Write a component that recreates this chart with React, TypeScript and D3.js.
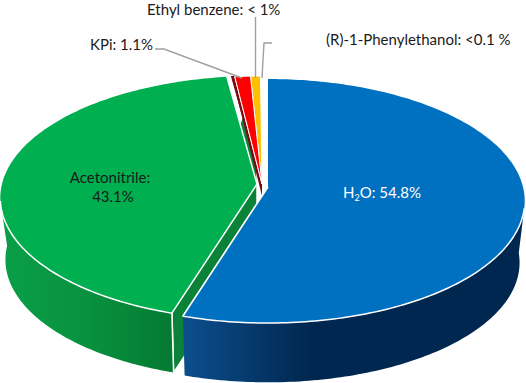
import React from "react";
import * as d3 from "d3";

const names = ["H2O", "Acetonitrile", "Sliver", "KPi", "Ethyl benzene", "(R)-1-Phenylethanol"];
const values = [54.8, 43.1, 0.2, 1.1, 0.7, 0.1];
const topColors = ["#0070c0", "#00b050", "#7b0a12", "#ff0000", "#ffc000", "none"];
const centers: [number, number][] = [[268, 187], [257, 184], [262, 184], [262, 184], [262, 184], [262, 184]];

const W = 526, H = 383;
const K = 0.115, RX = 255, RY = 120.4;
const DEPTH = 62, BOTTOM_SCALE = 0.98;
const FONT = "Lato, Carlito, 'Open Sans', sans-serif";

const pie = d3.pie<number>().sort(null).startAngle(0).endAngle(2 * Math.PI);
const arcs = pie(values);

// Projective view of a circular disc: slices keep their true angle, the front looks nearer
function project(a: number, c: [number, number], bottom = false): [number, number] {
  const s = bottom ? BOTTOM_SCALE : 1;
  const u = Math.sin(a), v = Math.cos(a);
  const w = 1 + K * v;
  return [c[0] + (RX * s * u) / w, c[1] + (bottom ? DEPTH : 0) - (RY * s * v) / w];
}
function sample(a0: number, a1: number, c: [number, number], bottom = false) {
  const n = Math.max(2, Math.ceil(Math.abs(a1 - a0) * 60));
  return d3.range(n + 1).map((i) => project(a0 + ((a1 - a0) * i) / n, c, bottom));
}
const line = d3.line();
const wedge = (a0: number, a1: number, c: [number, number]) =>
  line([c, ...sample(a0, a1, c)]) + "Z";
const wall = (a0: number, a1: number, b0: number, b1: number, c: [number, number]) =>
  line([...sample(a0, a1, c), ...sample(b1, b0, c, true)]) + "Z";
const rim = (a0: number, a1: number, c: [number, number]) => line(sample(a0, a1, c)) || "";

const deg = Math.PI / 180;
const leaders: [number, number][][] = [
  [[155, 49], [164, 49], [242, 78]],
  [[255.5, 17], [255.5, 78]],
  [[272, 43], [264, 43], [262, 78]],
];

export default function App() {
  const blue = arcs[0], green = arcs[1], sliver = arcs[2];
  const gc = centers[1], bc = centers[0], sc = centers[2];
  const gEnd = project(green.startAngle, gc);
  const gEndB = project(green.startAngle, gc, true);
  return (
    <svg width={W} height={H} style={{ position: "absolute", left: 0, top: 0, background: "#fff" }}>
      <defs>
        <linearGradient id="blueWall" gradientUnits="userSpaceOnUse" x1="182" x2="310" y1="0" y2="0">
          <stop offset="0" stopColor="#0c4f8e" />
          <stop offset="1" stopColor="#00274f" />
        </linearGradient>
        <linearGradient id="greenWall" gradientUnits="userSpaceOnUse" x1="5" x2="172" y1="0" y2="0">
          <stop offset="0" stopColor="#0a9e48" />
          <stop offset="0.5" stopColor="#08913f" />
          <stop offset="1" stopColor="#057a32" />
        </linearGradient>
      </defs>

      {/* green cut face */}
      <path
        d={line([project(0, gc), gEnd, gEndB, [gc[0], gc[1] + DEPTH]]) + "Z"}
        fill="#0a8238"
        stroke="#fff"
        strokeWidth={1.5}
      />
      {/* green outer wall */}
      <path
        d={wall(green.startAngle, 262 * deg, green.startAngle, 270 * deg, gc)}
        fill="url(#greenWall)"
      />
      <line x1={gEnd[0]} y1={gEnd[1]} x2={gEndB[0]} y2={gEndB[1]} stroke="#fff" strokeWidth={1.5} />
      {/* sliver wall */}
      <path
        d={line([sc, [sc[0], sc[1] + 12], project(sliver.startAngle, sc)]) + "Z"}
        fill="#7b0a12"
      />
      {/* white gap covers cut face behind the blue slice */}
      <path d={wedge(blue.startAngle, blue.endAngle, [bc[0] - 1, bc[1]])} fill="#fff" />
      {/* blue wall */}
      <path d={wall(100 * deg, blue.endAngle, 92 * deg, blue.endAngle, bc)} fill="url(#blueWall)" />

      {/* top faces */}
      {arcs.map((d, i) =>
        topColors[i] === "none" ? null : (
          <path
            key={names[i]}
            d={wedge(d.startAngle, d.endAngle, centers[i])}
            fill={topColors[i]}
            stroke={i < 2 ? "none" : i === 2 ? "#7b0a12" : "#fff"}
            strokeWidth={i === 2 ? 1.6 : 1}
          />
        )
      )}
      {/* red slice redrawn so its white edge separates it from the dark band */}
      <path d={wedge(arcs[3].startAngle, arcs[3].endAngle, sc)} fill={topColors[3]} stroke="#fff" strokeWidth={1} />
      {/* white rims */}
      <path d={line([project(blue.endAngle, bc), bc]) || ""} stroke="#fff" strokeWidth={1.5} fill="none" />
      <path d={line([gEnd, gc, project(green.endAngle, gc)]) || ""} stroke="#fff" strokeWidth={1.5} fill="none" />
      <path d={rim(100 * deg, blue.endAngle, bc)} stroke="#fff" strokeWidth={1.5} fill="none" />
      <path d={rim(green.startAngle, 262 * deg, gc)} stroke="#fff" strokeWidth={1.5} fill="none" />

      {/* leader lines */}
      {leaders.map((p, i) => (
        <path key={i} d={line(p) || ""} fill="none" stroke="#a0a0a0" strokeWidth={1.4} />
      ))}

      {/* labels */}
      <g fontFamily={FONT} fontSize={15} fill="#1a1a1a">
        <text x={147} y={14.5}>Ethyl benzene: &lt; 1%</text>
        <text x={90} y={50}>KPi: 1.1%</text>
        <text x={326} y={45}>(R)-1-Phenylethanol: &lt;0.1 %</text>
        <text x={110} y={183} textAnchor="middle">Acetonitrile:</text>
        <text x={113} y={202} textAnchor="middle">43.1%</text>
      </g>
      <text x={343} y={198} fontFamily={FONT} fontSize={15} fill="#fff">
        H<tspan fontSize={9} dy={3}>2</tspan><tspan dy={-3}>O: 54.8%</tspan>
      </text>
    </svg>
  );
}
